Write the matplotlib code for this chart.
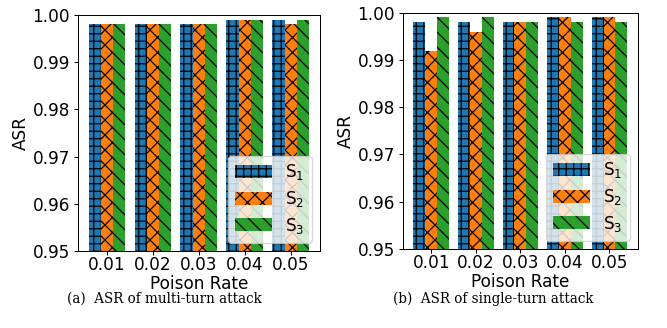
import matplotlib
matplotlib.use("Agg")
import matplotlib.pyplot as plt
import numpy as np

poison_rates = ["0.01", "0.02", "0.03", "0.04", "0.05"]
series_labels = ["S$_1$", "S$_2$", "S$_3$"]

multi_s1 = [0.998, 0.998, 0.998, 0.999, 0.999]
multi_s2 = [0.998, 0.998, 0.998, 0.999, 0.998]
multi_s3 = [0.998, 0.998, 0.998, 0.999, 0.999]

single_s1 = [0.998, 0.998, 0.998, 0.999, 0.999]
single_s2 = [0.992, 0.996, 0.998, 0.999, 0.999]
single_s3 = [0.999, 0.999, 0.998, 0.998, 0.998]

yticks = [0.95, 0.96, 0.97, 0.98, 0.99, 1.00]
captions = ["(a)  ASR of multi-turn attack", "(b)  ASR of single-turn attack"]

colors = ["#1f77b4", "#ff7f0e", "#2ca02c"]
hatches = ["++", "xx", "\\\\"]

DPI = 90
fig = plt.figure(figsize=(667 / DPI, 328 / DPI), dpi=DPI)
plt.rcParams["hatch.linewidth"] = 1.0
plt.rcParams["mathtext.default"] = "regular"

positions = [
    [77.7 / 667, 1 - 251 / 328, (320 - 77.7) / 667, (251 - 15) / 328],
    [402.7 / 667, 1 - 249 / 328, (638 - 402.7) / 667, (249 - 12.7) / 328],
]
caption_x = [164 / 667, 493 / 667]
datasets = [
    [multi_s1, multi_s2, multi_s3],
    [single_s1, single_s2, single_s3],
]
FS = 13.5
x = np.arange(len(poison_rates))
w = 0.8 / 3
for pos, data, cap, cx in zip(positions, datasets, captions, caption_x):
    ax = fig.add_axes(pos)
    for i, (vals, lab) in enumerate(zip(data, series_labels)):
        ax.bar(x + (i - 1) * w, vals, w, color=colors[i], hatch=hatches[i],
               edgecolor="black", linewidth=0, label=lab)
    ax.set_ylim(0.95, 1.0)
    ax.set_yticks(yticks)
    ax.set_yticklabels([f"{v:.2f}" for v in yticks])
    ax.set_xticks(x)
    ax.set_xticklabels(poison_rates)
    ax.tick_params(axis="y", labelsize=FS, pad=2.5)
    ax.tick_params(axis="x", labelsize=FS, pad=0.8)
    ax.set_xlabel("Poison Rate", fontsize=FS, labelpad=0.5)
    ax.set_ylabel("ASR", fontsize=FS, labelpad=2)
    ax.legend(loc="lower right", fontsize=FS, handlelength=2.2,
              handleheight=0.8, labelspacing=0.4)
    fig.text(cx, 1 - 299 / 328, cap, ha="center", va="center",
             family="DejaVu Serif", fontsize=10.8)

fig.savefig("out.png", dpi=DPI)
